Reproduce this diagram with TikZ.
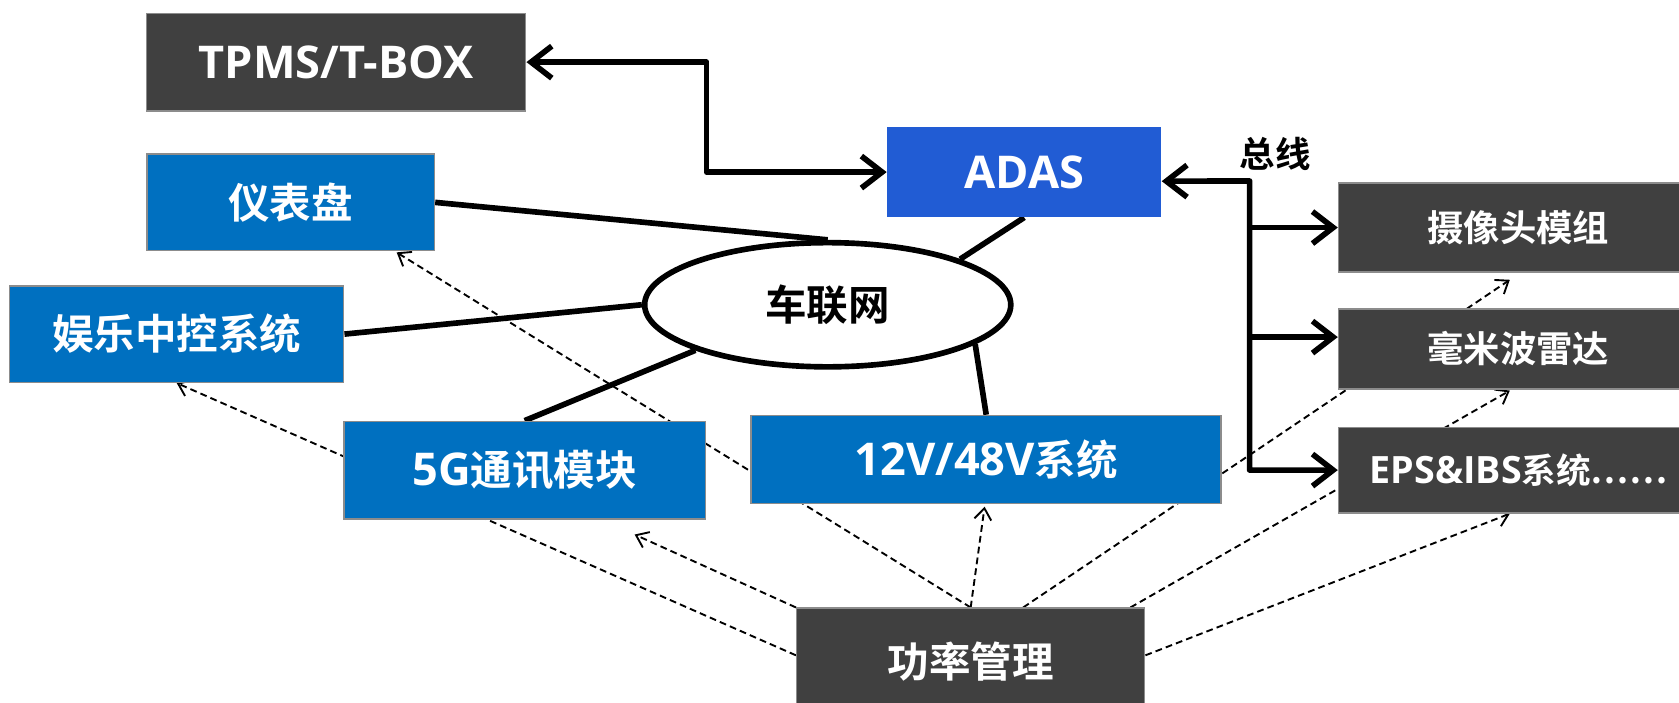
\documentclass[tikz,border=0pt]{standalone}
\usepackage{fontspec}
\setmainfont{Open Sans}
\newfontfamily\cjk{Noto Sans CJK SC}[Scale=0.92,BoldFont={Noto Sans CJK SC Bold}]
\usetikzlibrary{arrows.meta,calc,shapes.geometric}
\pgfdeclarelayer{back}
\pgfsetlayers{back,main}
\definecolor{boxgray}{RGB}{64,64,64}
\definecolor{boxblue}{RGB}{0,112,192}
\definecolor{adasblue}{RGB}{33,92,212}
\definecolor{edgegray}{RGB}{140,140,140}
\begin{document}
\begin{tikzpicture}[x=0.02cm,y=-0.02cm,font=\bfseries\fontsize{24}{28}\selectfont,
    box/.style={rectangle,draw=edgegray,line width=0.8pt,text=white,inner sep=0pt},
    darkbox/.style={box,fill=boxgray},
    bluebox/.style={box,fill=boxblue},
    sidebox/.style={darkbox,minimum width=6.72cm,font=\bfseries\fontsize{21}{25}\selectfont},
    wire/.style={line width=3pt,line join=round},
    link/.style={wire,{Straight Barb[length=11pt,width=17pt]}-{Straight Barb[length=11pt,width=17pt]}},
    tap/.style={wire,-{Straight Barb[length=11pt,width=17pt]}},
    feed/.style={line width=1pt,dash pattern=on 3.6pt off 2.2pt,-{Straight Barb[length=6pt,width=9pt]}}]
    \useasboundingbox (0,0) rectangle (1568,656);
    % boxes
    \node[darkbox,minimum width=7.08cm,minimum height=1.82cm] (tbox) at (314,58) {TPMS/T-BOX};
    \node[box,draw=none,fill=adasblue,minimum width=5.11cm,minimum height=1.67cm] (adas) at (956.5,160.7) {ADAS};
    \node[bluebox,minimum width=5.37cm,minimum height=1.8cm] (dash) at (271.5,189) {\cjk 仪表盘};
    \node[bluebox,minimum width=6.24cm,minimum height=1.8cm] (ent) at (165,312) {\cjk 娱乐中控系统};
    \node[bluebox,minimum width=6.76cm,minimum height=1.82cm] (g5) at (490,439) {5G{\cjk 通讯模块}};
    \node[bluebox,minimum width=8.78cm,minimum height=1.64cm] (v12) at (921,429) {12V/48V{\cjk 系统}};
    \node[ellipse,draw,line width=3pt,fill=white,inner sep=0pt,minimum width=6.84cm,minimum height=2.32cm] (net) at (773,284.6) {\cjk 车联网};
    \node[sidebox,minimum height=1.66cm] (cam) at (1418,212.5) {\cjk 摄像头模组};
    \node[sidebox,minimum height=1.49cm] (mmw) at (1418,325.8) {\cjk 毫米波雷达};
    \node[sidebox,minimum height=1.6cm,font=\bfseries\fontsize{20}{24}\selectfont] (eps) at (1418,439) {EPS\&IBS{\cjk 系统……}};
    \node[darkbox,minimum width=6.5cm,minimum height=2cm] (pm) at (906.5,618) {\cjk 功率管理};
    \node[font=\cjk\bfseries\fontsize{20.5}{24}\selectfont] (buslabel) at (1191,144) {总线};
    \coordinate (bus) at (1167,169);
    \begin{pgfonlayer}{back}
        % solid links
        \draw[link] (tbox.east) -| ($(tbox.east)!.5!(adas.west)$) |- (adas.west);
        \draw[link] ($(adas.east)+(0,8.5)$) -- (bus) |- (eps.west);
        \draw[tap] (bus) |- (cam.west);
        \draw[tap] (bus) |- ($(mmw.west)+(0,-11)$);
        \draw[wire] (dash.east) -- (net.north);
        \draw[wire] (adas.south) -- (net.19);
        \draw[wire] (ent.east) -- (net.west);
        \draw[wire] (g5.north) -- (net.199);
        \draw[wire] (v12.north) -- (net.345);
        % power feeds
        \draw[feed] ($(pm.west)+(0,-6)$) -- (ent.south);
        \draw[feed] (pm.north west) -- ($(g5.south east)+(-67,14)$);
        \draw[feed] (pm.north) -- ($(dash.south east)+(-36,1)$);
        \draw[feed] (pm.north) -- ($(v12.south)+(-1.5,2.5)$);
        \draw[feed] ($(pm.north)+(49,0)$) -- ($(cam.south)+(-8,6.6)$);
        \draw[feed] ($(pm.north east)+(-14,0)$) -- ($(mmw.south)+(-8,1)$);
        \draw[feed] ($(pm.east)+(0,-6)$) -- ($(eps.south)+(-8,0)$);
    \end{pgfonlayer}
\end{tikzpicture}
\end{document}
